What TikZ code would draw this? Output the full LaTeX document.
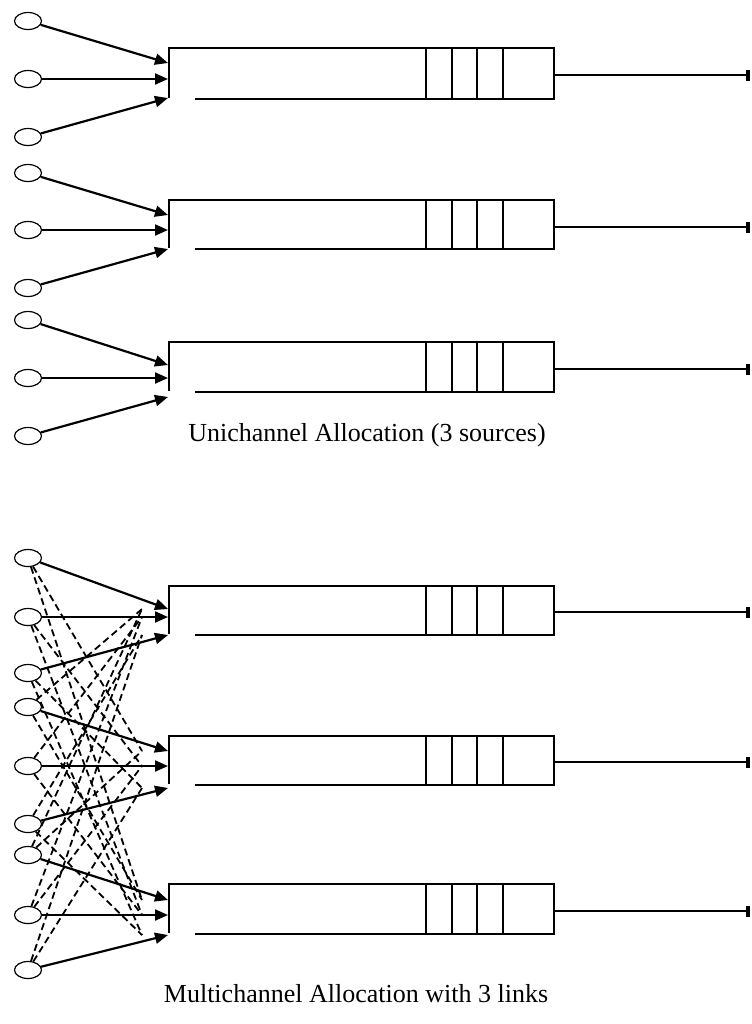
\documentclass[tikz,border=0pt]{standalone}
\usepackage{fontspec}
\setmainfont{Liberation Serif}
\usetikzlibrary{arrows.meta, shapes.geometric}

\begin{document}
\begin{tikzpicture}[x=0.5pt, y=-0.5pt,
    src/.style={ellipse, draw, line width=0.6pt, minimum width=13.5pt,
        minimum height=8.5pt, inner sep=0pt},
    queue/.style={line width=0.7pt},
    arr/.style={-{Triangle[length=6.5pt, width=5.5pt]}, line width=1.1pt},
    darr/.style={line width=0.9pt, dash pattern=on 3.5pt off 2pt},
    link/.style={-{Rectangle[length=2pt, width=5.5pt]}, line width=0.9pt},
    lbl/.style={font=\fontsize{13}{15}\selectfont, inner sep=0pt},
]
\useasboundingbox (0,0) rectangle (751,1024);

% ===== Queues: number / top / bottom / output line =====
\foreach \n/\qt/\qb/\qo in {1/48/99/75, 2/200/249/227, 3/342/392/369,
                            4/586/635/612, 5/736/785/762, 6/884/934/911} {
  \draw[queue] (169,\qb-1) -- (169,\qt) -- (554,\qt) -- (554,\qb) -- (195,\qb);
  \foreach \x in {426,452,477,503}
    \draw[queue] (\x,\qt) -- (\x,\qb);
  \coordinate (q\n-out) at (554,\qo);
  \coordinate (q\n-end) at (750,\qo);
  \draw[link] (q\n-out) -- (q\n-end);
}

% ===== Input ports of each queue =====
\foreach \n/\pa/\pb/\pc in {1/63/79/98, 2/215/230/249, 3/365/378/397,
                            4/609/617/635, 5/751/766/788, 6/900/915/935} {
  \coordinate (q\n-p1) at (168,\pa);
  \coordinate (q\n-p2) at (168,\pb);
  \coordinate (q\n-p3) at (168,\pc);
  \coordinate (q\n-d1) at (142,\pa);
  \coordinate (q\n-d2) at (142,\pb);
  \coordinate (q\n-d3) at (142,\pc);
}

% ===== Sources =====
\foreach \n/\ya/\yb/\yc in {1/21/79/137, 2/173/230/288, 3/320/378/436,
                            4/558/617/673, 5/707/766/824, 6/855/915/970} {
  \node[src] (s\n1) at (28,\ya) {};
  \node[src] (s\n2) at (28,\yb) {};
  \node[src] (s\n3) at (28,\yc) {};
}

% ===== Unichannel: one queue per source group =====
\foreach \n in {1,2,3}
  \foreach \k in {1,2,3}
    \draw[arr] (s\n\k) -- (q\n-p\k);

\node[lbl] (cap1) at (367,435) {Unichannel Allocation (3 sources)};

% ===== Multichannel: own queue solid, the other links dashed =====
\foreach \n in {4,5,6}
  \foreach \k in {1,2,3} {
    \draw[arr] (s\n\k) -- (q\n-p\k);
    \foreach \m in {4,5,6} {
      \ifnum\m=\n\else
        \draw[darr] (s\n\k) -- (q\m-d\k);
      \fi
    }
  }

\node[lbl] (cap2) at (356,994) {Multichannel Allocation with 3 links};

\end{tikzpicture}
\end{document}
